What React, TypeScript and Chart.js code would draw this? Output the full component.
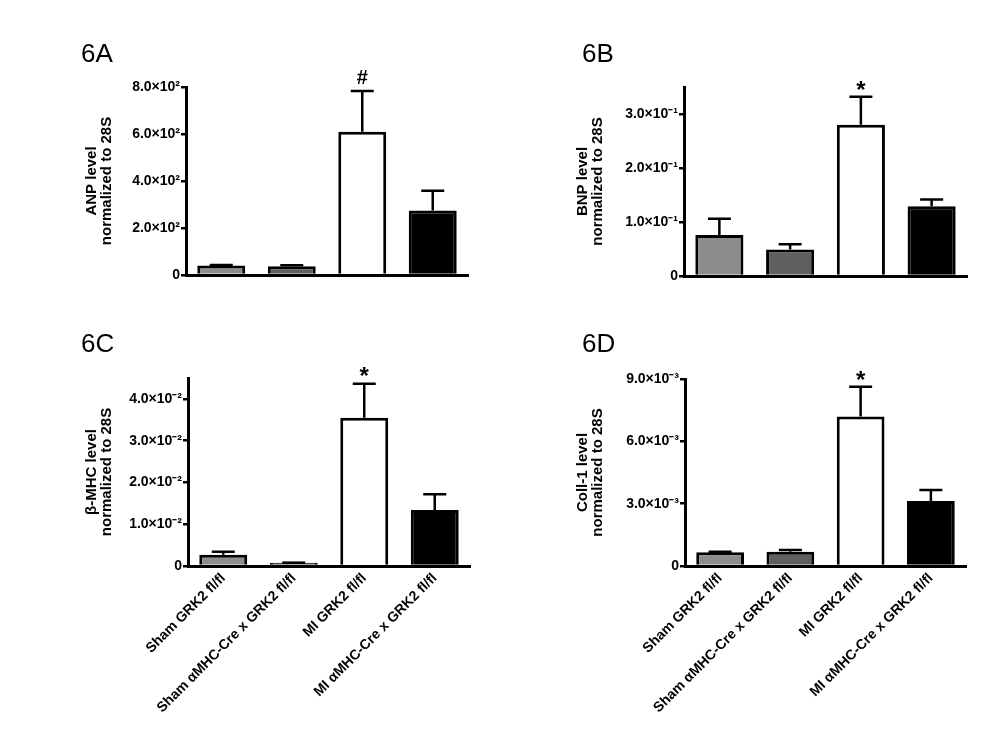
import React, { useEffect, useRef } from "react";
import { Chart, registerables } from "chart.js";

Chart.register(...registerables);

const categories = [
  "Sham GRK2 fl/fl",
  "Sham \u03b1MHC-Cre x GRK2 fl/fl",
  "MI GRK2 fl/fl",
  "MI \u03b1MHC-Cre x GRK2 fl/fl",
];
const barColors = ["#8c8c8c", "#5f5f5f", "#ffffff", "#000000"];

// 6A ANP
const anpMean = [40, 37, 610, 274];
const anpUpper = [43, 41, 783, 359];
const anpTicks = [0, 200, 400, 600, 800];
const anpTickLabels = ["0", "2.0\u00d710\u00b2", "4.0\u00d710\u00b2", "6.0\u00d710\u00b2", "8.0\u00d710\u00b2"];

// 6B BNP
const bnpMean = [0.076, 0.049, 0.28, 0.129];
const bnpUpper = [0.106, 0.059, 0.332, 0.1415];
const bnpTicks = [0, 0.1, 0.2, 0.3];
const bnpTickLabels = ["0", "1.0\u00d710\u207b\u00b9", "2.0\u00d710\u207b\u00b9", "3.0\u00d710\u207b\u00b9"];

// 6C beta-MHC
const bmhcMean = [0.0027, 0.0008, 0.0355, 0.0134];
const bmhcUpper = [0.0034, 0.0008, 0.0436, 0.0172];
const bmhcTicks = [0, 0.01, 0.02, 0.03, 0.04];
const bmhcTickLabels = ["0", "1.0\u00d710\u207b\u00b2", "2.0\u00d710\u207b\u00b2", "3.0\u00d710\u207b\u00b2", "4.0\u00d710\u207b\u00b2"];

// 6D Coll-1
const collMean = [0.00066, 0.00069, 0.00719, 0.00313];
const collUpper = [0.00068, 0.00077, 0.00863, 0.00366];
const collTicks = [0, 0.003, 0.006, 0.009];
const collTickLabels = ["0", "3.0\u00d710\u207b\u00b3", "6.0\u00d710\u207b\u00b3", "9.0\u00d710\u207b\u00b3"];

const FONT = "'Liberation Sans', Arial, Helvetica, sans-serif";

type PanelProps = {
  left: number;
  top: number;
  w: number;
  h: number;
  padL: number;
  areaLeft: number;
  areaTop: number;
  areaRight: number;
  areaBottom: number;
  yMax: number;
  mean: number[];
  upper: number[];
  ticks: number[];
  tickLabels: string[];
  yTitle: string[];
  mark: string;
  markFont: number;
  markOffset: number;
  showX: boolean;
};

function Panel(p: PanelProps) {
  const ref = useRef<HTMLCanvasElement | null>(null);
  useEffect(() => {
    if (!ref.current) return;
    const errPlugin = {
      id: "errbars",
      afterDatasetsDraw(chart: any) {
        const ctx = chart.ctx;
        const meta = chart.getDatasetMeta(0);
        const ys = chart.scales.y;
        ctx.save();
        ctx.strokeStyle = "#000";
        ctx.lineWidth = 2.5;
        ctx.lineCap = "butt";
        meta.data.forEach((bar: any, i: number) => {
          const x = bar.x;
          const yTop = ys.getPixelForValue(p.upper[i]);
          const yBar = bar.y;
          ctx.beginPath();
          ctx.moveTo(x, yBar);
          ctx.lineTo(x, yTop);
          ctx.moveTo(x - 11.5, yTop);
          ctx.lineTo(x + 11.5, yTop);
          ctx.stroke();
          if (i === 2) {
            ctx.fillStyle = "#000";
            ctx.font = `bold ${p.markFont}px ${FONT}`;
            ctx.textAlign = "center";
            ctx.textBaseline = "alphabetic";
            ctx.fillText(p.mark, x, yTop - p.markOffset);
          }
        });
        ctx.restore();
      },
    };
    const chart = new Chart(ref.current, {
      type: "bar",
      data: {
        labels: categories,
        datasets: [
          {
            data: p.mean,
            backgroundColor: barColors,
            borderColor: "#000",
            borderWidth: 3,
            categoryPercentage: 1,
            barPercentage: 0.68,
          },
        ],
      },
      options: {
        animation: false,
        responsive: false,
        devicePixelRatio: 1,
        layout: {
          padding: {
            left: p.padL,
            top: p.areaTop,
            right: p.w - p.areaRight,
            bottom: 0,
          },
        },
        plugins: {
          legend: { display: false },
          tooltip: { enabled: false },
        },
        scales: {
          x: {
            grid: { display: false, drawTicks: false },
            border: { display: true, color: "#000", width: 3 },
            ticks: {
              display: p.showX,
              color: "#000",
              font: { family: FONT, size: 14, weight: "bold" },
              minRotation: 45,
              maxRotation: 45,
              padding: 4,
              autoSkip: false,
            },
            afterFit: (s: any) => {
              s.height = p.h - p.areaBottom;
            },
          },
          y: {
            min: 0,
            max: p.yMax,
            grid: {
              drawOnChartArea: false,
              drawTicks: true,
              tickLength: 5,
              color: "#000",
              lineWidth: 2.5,
            },
            border: { display: true, color: "#000", width: 3 },
            afterBuildTicks: (s: any) => {
              s.ticks = p.ticks.map((v) => ({ value: v }));
            },
            ticks: {
              color: "#000",
              padding: 1,
              font: { family: FONT, size: 14, weight: "bold" },
              callback: (_v: any, i: number) => p.tickLabels[i],
            },
            title: {
              display: true,
              text: p.yTitle,
              color: "#000",
              font: { family: FONT, size: 15, weight: "bold", lineHeight: 1 },
              padding: { top: 0, bottom: 0 },
            },
            afterFit: (s: any) => {
              s.width = p.areaLeft - p.padL;
            },
          },
        },
      } as any,
      plugins: [errPlugin],
    });
    return () => chart.destroy();
  }, []);
  return (
    <canvas
      ref={ref}
      width={p.w}
      height={p.h}
      style={{ position: "absolute", left: p.left, top: p.top, width: p.w, height: p.h }}
    />
  );
}

const labelStyle = (left: number, top: number): React.CSSProperties => ({
  position: "absolute",
  left,
  top,
  fontFamily: FONT,
  fontSize: 26,
  lineHeight: "26px",
  color: "#000",
});

export default function App() {
  return (
    <div
      style={{
        position: "fixed",
        left: 0,
        top: 0,
        width: 1007,
        height: 742,
        background: "#fff",
        overflow: "hidden",
      }}
    >
      <Panel
        left={0} top={0} w={500} h={300} padL={84} areaLeft={186} areaTop={87} areaRight={468} areaBottom={275}
        yMax={800} mean={anpMean} upper={anpUpper} ticks={anpTicks} tickLabels={anpTickLabels}
        yTitle={["ANP level", "normalized to 28S"]} mark="#" markFont={20} markOffset={7} showX={false}
      />
      <Panel
        left={500} top={0} w={507} h={300} padL={75} areaLeft={184} areaTop={87} areaRight={467} areaBottom={276}
        yMax={0.35} mean={bnpMean} upper={bnpUpper} ticks={bnpTicks} tickLabels={bnpTickLabels}
        yTitle={["BNP level", "normalized to 28S"]} mark="*" markFont={24} markOffset={-1} showX={false}
      />
      <Panel
        left={0} top={300} w={500} h={442} padL={84} areaLeft={188} areaTop={78} areaRight={470} areaBottom={266}
        yMax={0.045} mean={bmhcMean} upper={bmhcUpper} ticks={bmhcTicks} tickLabels={bmhcTickLabels}
        yTitle={["\u03b2-MHC level", "normalized to 28S"]} mark="*" markFont={24} markOffset={0} showX={true}
      />
      <Panel
        left={500} top={300} w={507} h={442} padL={75} areaLeft={185} areaTop={79} areaRight={466} areaBottom={266}
        yMax={0.009} mean={collMean} upper={collUpper} ticks={collTicks} tickLabels={collTickLabels}
        yTitle={["Coll-1 level", "normalized to 28S"]} mark="*" markFont={24} markOffset={-1} showX={true}
      />
      <div style={labelStyle(81, 40)}>6A</div>
      <div style={labelStyle(582, 40)}>6B</div>
      <div style={labelStyle(81, 330)}>6C</div>
      <div style={labelStyle(582, 330)}>6D</div>
    </div>
  );
}
